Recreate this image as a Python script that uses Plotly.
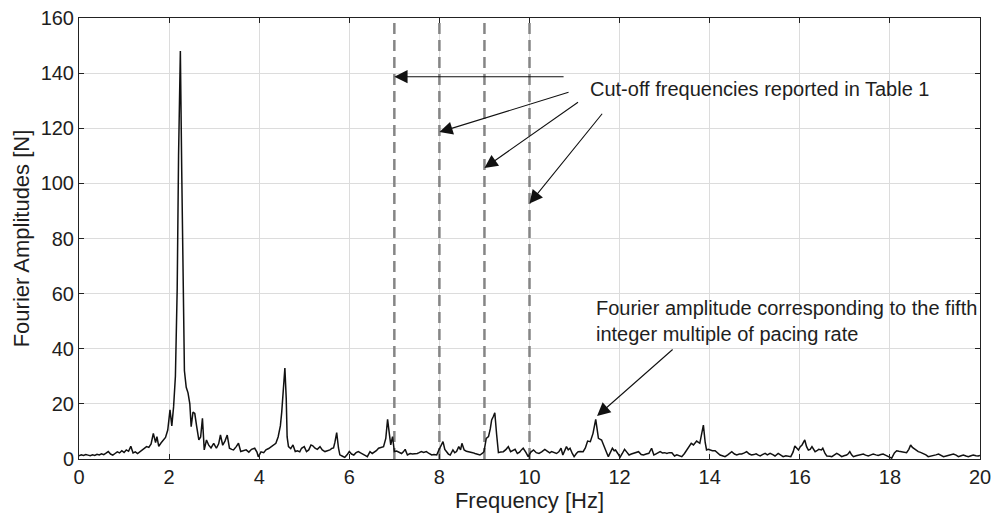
import plotly.graph_objects as go

freq_hz = [
    0.00, 0.05, 0.10, 0.15, 0.20, 0.25, 0.30, 0.35, 0.40, 0.45, 0.50, 0.55, 0.60, 0.65, 0.70, 0.75,
    0.80, 0.85, 0.90, 0.95, 1.00, 1.05, 1.10, 1.15, 1.20, 1.25, 1.30, 1.35, 1.40, 1.45, 1.50, 1.55,
    1.60, 1.65, 1.70, 1.73, 1.77, 1.82, 1.87, 1.92, 1.97, 2.02, 2.06, 2.10, 2.14, 2.18, 2.21, 2.25,
    2.28, 2.31, 2.34, 2.38, 2.42, 2.46, 2.49, 2.53, 2.57, 2.61, 2.66, 2.70, 2.74, 2.78, 2.83, 2.88,
    2.93, 2.99, 3.05, 3.10, 3.14, 3.19, 3.24, 3.29, 3.34, 3.39, 3.43, 3.49, 3.54, 3.59, 3.65, 3.71,
    3.77, 3.83, 3.90, 3.95, 3.98, 4.04, 4.10, 4.15, 4.21, 4.26, 4.32, 4.37, 4.42, 4.47, 4.50, 4.54,
    4.57, 4.60, 4.62, 4.65, 4.70, 4.75, 4.80, 4.85, 4.90, 4.94, 5.00, 5.05, 5.10, 5.15, 5.19, 5.24,
    5.29, 5.35, 5.40, 5.46, 5.51, 5.57, 5.62, 5.65, 5.68, 5.72, 5.76, 5.79, 5.85, 5.90, 5.95, 6.00,
    6.05, 6.10, 6.15, 6.20, 6.25, 6.31, 6.36, 6.40, 6.46, 6.51, 6.55, 6.60, 6.65, 6.70, 6.76, 6.81,
    6.85, 6.89, 6.92, 6.96, 7.00, 7.05, 7.10, 7.16, 7.20, 7.24, 7.29, 7.35, 7.40, 7.46, 7.51, 7.55,
    7.60, 7.65, 7.71, 7.77, 7.83, 7.88, 7.94, 7.98, 8.03, 8.08, 8.12, 8.16, 8.20, 8.24, 8.30, 8.34,
    8.38, 8.43, 8.47, 8.50, 8.55, 8.60, 8.68, 8.74, 8.79, 8.85, 8.90, 8.95, 8.99, 9.04, 9.09, 9.13,
    9.16, 9.20, 9.23, 9.27, 9.31, 9.36, 9.42, 9.48, 9.53, 9.58, 9.63, 9.68, 9.73, 9.78, 9.82, 9.86,
    9.92, 9.97, 10.03, 10.09, 10.15, 10.21, 10.27, 10.34, 10.40, 10.45, 10.49, 10.55, 10.60, 10.65,
    10.70, 10.74, 10.78, 10.82, 10.86, 10.90, 10.95, 10.99, 11.04, 11.08, 11.13, 11.19, 11.24, 11.29,
    11.35, 11.41, 11.47, 11.53, 11.60, 11.64, 11.68, 11.72, 11.75, 11.80, 11.84, 11.88, 11.91, 11.96,
    12.01, 12.06, 12.11, 12.16, 12.21, 12.26, 12.31, 12.37, 12.42, 12.48, 12.53, 12.59, 12.65, 12.71,
    12.76, 12.80, 12.86, 12.90, 12.95, 13.00, 13.05, 13.10, 13.16, 13.22, 13.27, 13.33, 13.38, 13.44,
    13.49, 13.54, 13.59, 13.64, 13.71, 13.78, 13.82, 13.86, 13.90, 13.93, 13.97, 14.00, 14.06, 14.12,
    14.18, 14.23, 14.28, 14.34, 14.40, 14.45, 14.49, 14.55, 14.60, 14.66, 14.71, 14.77, 14.82, 14.88,
    14.93, 14.98, 15.03, 15.08, 15.12, 15.17, 15.23, 15.28, 15.34, 15.40, 15.45, 15.52, 15.57, 15.63,
    15.69, 15.75, 15.80, 15.85, 15.89, 15.93, 15.97, 16.01, 16.05, 16.11, 16.15, 16.19, 16.23, 16.27,
    16.34, 16.38, 16.42, 16.48, 16.51, 16.56, 16.60, 16.67, 16.71, 16.77, 16.82, 16.87, 16.93, 16.98,
    17.04, 17.08, 17.11, 17.15, 17.19, 17.25, 17.30, 17.36, 17.41, 17.46, 17.52, 17.58, 17.63, 17.69,
    17.74, 17.80, 17.85, 17.90, 17.96, 18.04, 18.10, 18.15, 18.20, 18.25, 18.30, 18.37, 18.42, 18.46,
    18.50, 18.55, 18.60, 18.63, 18.68, 18.74, 18.80, 18.85, 18.90, 18.96, 19.02, 19.08, 19.13, 19.19,
    19.25, 19.30, 19.36, 19.41, 19.47, 19.52, 19.58, 19.63, 19.69, 19.74, 19.80, 19.85, 19.91, 19.96,
    20.00,
]

amplitude_n = [
    1.2, 1.5, 1.3, 1.6, 1.4, 1.2, 1.5, 1.3, 1.7, 1.5, 1.9, 1.6, 2.1, 2.7, 1.8, 1.4,
    2.0, 2.6, 2.2, 3.0, 2.4, 3.3, 2.8, 4.6, 2.2, 2.6, 2.0, 2.7, 3.2, 3.8, 4.5, 4.2,
    5.5, 9.3, 6.0, 8.1, 4.6, 5.8, 7.0, 7.8, 10.5, 17.8, 12.0, 19.0, 30, 62, 110, 148,
    105, 55, 32, 26, 24, 20, 11.7, 17.0, 16.5, 12.0, 6.9, 8.0, 14.8, 3.3, 6.9, 5.0,
    4.0, 5.7, 3.9, 5.5, 8.7, 5.0, 6.5, 8.7, 3.9, 3.5, 3.3, 4.5, 5.7, 2.7, 3.0, 3.3,
    2.5, 3.5, 3.9, 2.5, 0.8, 2.6, 2.3, 3.3, 3.8, 4.5, 5.0, 5.7, 8.0, 12, 17, 27,
    33, 22, 8, 4.5, 3.8, 5.1, 2.7, 3.0, 2.6, 3.9, 4.5, 2.7, 3.3, 5.1, 4.8, 3.9,
    3.5, 4.5, 3.3, 2.7, 3.0, 3.3, 3.9, 4.0, 6.0, 9.6, 4.0, 1.5, 1.0, 0.6, 1.5, 2.7,
    1.8, 1.45, 2.3, 2.7, 2.2, 1.8, 1.2, 0.85, 2.7, 2.0, 2.4, 3.0, 3.9, 4.2, 4.5, 7.5,
    14.4, 9, 5.1, 8.1, 2.7, 2.9, 2.5, 2.0, 2.6, 3.5, 1.45, 2.0, 1.8, 1.8, 2.0, 2.3,
    2.7, 2.4, 2.7, 2.0, 1.45, 1.6, 1.45, 3.0, 4.5, 6.3, 3.5, 2.66, 1.8, 1.45, 3.3, 2.3,
    2.7, 4.5, 3.3, 5.7, 3.3, 2.8, 2.66, 2.3, 2.0, 1.8, 1.45, 2.0, 2.66, 7.5, 8.1, 11,
    14.2, 15.5, 16.8, 9, 2.3, 2.5, 2.66, 3.5, 4.5, 2.66, 3.0, 3.5, 2.0, 2.5, 3.3, 3.9,
    2.4, 0.85, 2.5, 3.3, 2.3, 2.0, 2.6, 3.5, 2.8, 2.2, 2.66, 2.3, 2.0, 2.6,
    3.9, 1.45, 3.0, 4.5, 3.3, 3.9, 2.0, 0.85, 2.0, 2.66, 2.7, 2.66, 4.0, 6.5,
    6.3, 9.3, 14.4, 7.5, 6.9, 5.0, 3.27, 2.0, 0.85, 2.5, 3.9, 3.0, 3.27, 2.0,
    0.6, 2.0, 3.5, 2.5, 1.45, 1.8, 2.05, 2.5, 2.66, 1.6, 1.45, 1.8, 2.05, 3.9,
    1.45, 1.8, 2.4, 2.66, 2.2, 2.3, 2.0, 2.3, 2.3, 1.1, 1.5, 1.0, 0.85, 2.0,
    3.27, 4.5, 5.7, 5.1, 6.5, 5.7, 8.5, 12.3, 6, 3.27, 3.5, 3.27, 3.0, 3.0,
    2.0, 1.45, 1.2, 0.85, 1.5, 2.2, 2.66, 1.8, 1.5, 1.8, 1.8, 2.2, 2.66, 1.8,
    1.45, 1.6, 1.9, 1.4, 1.1, 1.6, 2.05, 1.5, 2.05, 1.6, 1.1, 2.05, 1.5, 0.85,
    1.2, 1.1, 0.85, 2.5, 4.7, 4.0, 3.27, 4.5, 5.1, 6.9, 4.5, 3.27, 3.5, 4.5,
    2.66, 3.0, 3.5, 3.3, 3.9, 2.0, 1.1, 1.0, 0.85, 1.5, 2.05, 1.6, 0.85, 1.2,
    1.45, 2.0, 2.66, 1.5, 0.85, 1.2, 1.45, 1.6, 1.8, 1.4, 1.1, 1.5, 1.8, 1.5,
    1.3, 1.6, 1.8, 1.4, 0.85, 0.3, 2.2, 3.0, 2.8, 2.66, 2.5, 2.3, 3.5, 5.1,
    4.2, 3.5, 3.0, 2.66, 2.4, 2.05, 1.5, 0.85, 1.0, 1.1, 1.5, 1.8, 1.4, 0.85,
    1.1, 1.3, 1.6, 1.8, 1.4, 0.85, 1.2, 1.45, 1.1, 0.85, 1.2, 1.45, 1.2, 1.1,
    1.3,
]

cutoff_freqs = [7, 8, 9, 10]
x_ticks = [0, 2, 4, 6, 8, 10, 12, 14, 16, 18, 20]
y_ticks = [0, 20, 40, 60, 80, 100, 120, 140, 160]

FONT = "Liberation Sans, Arial, sans-serif"
TXT = "#1e1e1e"

fig = go.Figure()

for fc in cutoff_freqs:
    fig.add_trace(go.Scatter(
        x=[fc, fc], y=[y_ticks[0], y_ticks[-1]], mode="lines",
        line=dict(color="#858585", width=2.5, dash="11px,6px"),
        showlegend=False, hoverinfo="skip",
    ))

fig.add_trace(go.Scatter(
    x=freq_hz, y=amplitude_n, mode="lines",
    line=dict(color="#111111", width=1.5),
    showlegend=False,
))

arrow_common = dict(xref="x", yref="y", axref="x", ayref="y", text="",
                    showarrow=True, arrowhead=2, arrowsize=2.4, arrowwidth=1.1,
                    arrowcolor="#111111")
# Cut-off arrows (head at dashed lines)
fig.add_annotation(x=7.0, y=138.7, ax=10.79, ay=138.7, **arrow_common)
fig.add_annotation(x=8.0, y=118.6, ax=10.9, ay=133.2, **arrow_common)
fig.add_annotation(x=9.0, y=105.6, ax=11.11, ay=129.8, **arrow_common)
fig.add_annotation(x=10.0, y=92.7, ax=11.64, ay=125.8, **arrow_common)
# Fifth harmonic arrow
fig.add_annotation(x=11.5, y=15.6, ax=13.21, ay=40.2, **arrow_common)

fig.add_annotation(x=11.3, y=134.3, xref="x", yref="y", xanchor="left", yanchor="middle",
                   text="Cut-off frequencies reported in Table 1", showarrow=False,
                   font=dict(family=FONT, size=20, color=TXT))
fig.add_annotation(x=11.43, y=50.0, xref="x", yref="y", xanchor="left", yanchor="middle",
                   align="left",
                   text="Fourier amplitude corresponding to the fifth<br>integer multiple of pacing rate",
                   showarrow=False, font=dict(family=FONT, size=20, color=TXT))

axis_common = dict(
    showline=True, linecolor="#222222", linewidth=1, mirror="ticks",
    ticks="inside", ticklen=5, tickcolor="#222222", tickwidth=1,
    showgrid=True, gridcolor="#dcdcdc", gridwidth=1, zeroline=False,
    tickfont=dict(family=FONT, size=20, color=TXT), automargin=False,
    ticklabeloverflow="allow",
)

fig.update_xaxes(range=[0, 20], tickvals=x_ticks, ticktext=[str(t) for t in x_ticks],
                 title=dict(text="Frequency [Hz]", font=dict(family=FONT, size=22, color=TXT), standoff=2),
                 **axis_common)
fig.update_yaxes(range=[0, 160], tickvals=y_ticks, ticktext=[str(t) for t in y_ticks],
                 title=dict(text="Fourier Amplitudes [N]", font=dict(family=FONT, size=22, color=TXT), standoff=4),
                 **axis_common)

fig.update_layout(
    width=994, height=515,
    margin=dict(l=79, r=14, t=18, b=56),
    plot_bgcolor="white", paper_bgcolor="white",
    font=dict(family=FONT, color=TXT),
)

# remove the browser's default body margin so the figure fills the window exactly
fig.write_html("out.html",
               config={"displayModeBar": False, "staticPlot": True},
               post_script="document.body.style.margin='0';document.body.style.overflow='hidden';")
